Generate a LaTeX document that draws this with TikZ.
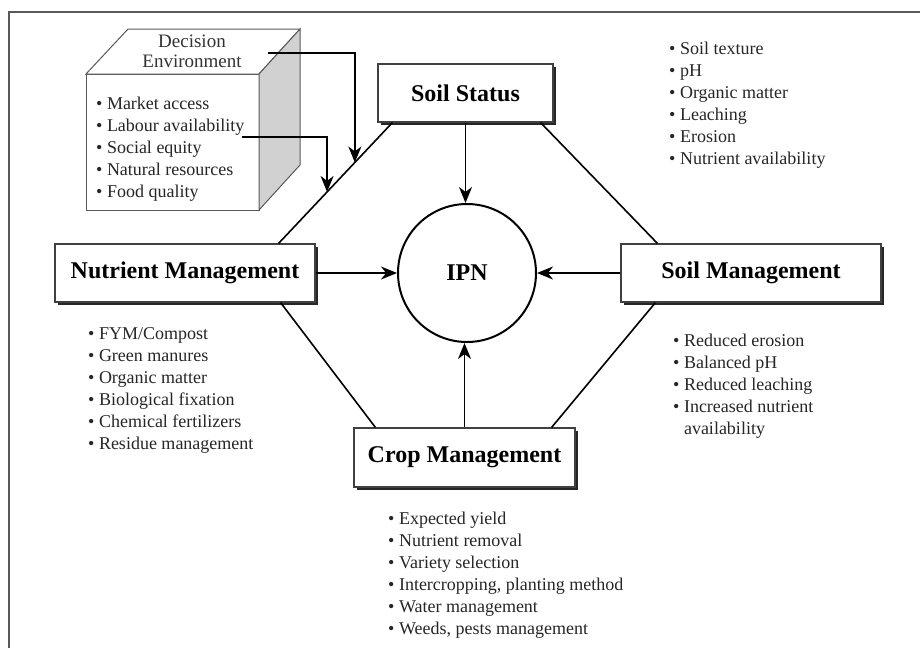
\documentclass[tikz,border=0pt]{standalone}
\usepackage{fontspec}
\setmainfont{Liberation Serif}
\usetikzlibrary{arrows.meta,calc,shadows}

% a column of bullet points: name, x of bullet, baseline of first line, items
\newcommand\bulletitems[4]{%
  \foreach \t [count=\i from 0] in {#4} {%
    \node[item] (#1-\i) at ({#2},{#3+22*\i}) {\textbullet\ \t};
  }%
}

\begin{document}
\begin{tikzpicture}[x=1pt,y=-1pt,
  frame/.style={draw=black!65, line width=1.8pt},
  box/.style={draw=black!75, line width=1.2pt, fill=white, inner sep=0pt,
    font=\fontsize{24}{28}\selectfont\bfseries,
    drop shadow={shadow xshift=3pt, shadow yshift=-3pt, fill=black!85, opacity=1}},
  hub/.style={circle, draw=black, line width=2pt, fill=white, minimum size=138pt,
    inner sep=0pt, font=\fontsize{24}{28}\selectfont\bfseries},
  edge/.style={draw=black, line width=1.6pt},
  arr/.style={draw=black, line width=1.6pt, -{Stealth[length=16pt,width=13pt,inset=5pt]}},
  cube/.style={draw=black!65, line width=1pt},
  item/.style={inner sep=0pt, anchor=base west, text=black!85,
    font=\fontsize{18}{22}\selectfont},
  cubetitle/.style={inner sep=0pt, anchor=base, text=black!80,
    font=\fontsize{19}{22}\selectfont}
]
\useasboundingbox (0,0) rectangle (920,648);

% page frame
\draw[frame] (920,12) -- (9,12) -- (9,648);

% decision environment cube
\coordinate (c1) at (86,74);
\coordinate (c2) at (259,74);
\coordinate (c3) at (259,210);
\coordinate (c4) at (86,210);
\coordinate (c5) at (128,29);
\coordinate (c6) at (300,29);
\coordinate (c7) at (300,165);
\draw[cube, fill=white] (c4) -- (c1) -- (c2) -- (c3) -- cycle;
\draw[cube, fill=white] (c1) -- (c5) -- (c6) -- (c2) -- cycle;
\draw[cube, fill=black!18] (c2) -- (c6) -- (c7) -- (c3) -- cycle;
\node[cubetitle] (de1) at (192,47) {Decision};
\node[cubetitle] (de2) at (192,67) {Environment};
\bulletitems{del}{96}{109}{Market access, Labour availability, Social equity, Natural resources, Food quality}

% boxes and hub
\node[box, minimum width=175pt, minimum height=58pt] (ss) at (465.5,93) {Soil Status};
\node[box, minimum width=260pt, minimum height=58pt] (nm) at (185,273) {Nutrient Management};
\node[box, minimum width=260pt, minimum height=58pt] (sm) at (751,273) {Soil Management};
\node[box, minimum width=221pt, minimum height=59pt] (cm) at (464.5,457.5) {Crop Management};
\node[hub] (ipn) at (467,273) {IPN};

% octagon links between the boxes
\draw[edge] ($(ss.south west)+(15,0)$) -- coordinate[pos=0.33] (hit1) coordinate[pos=0.574] (hit2) ($(nm.north east)+(-37,0)$);
\draw[edge] ($(ss.south east)+(-13,0)$) -- ($(sm.north west)+(37,0)$);
\draw[edge] ($(nm.south east)+(-35,0)$) -- ($(cm.north west)+(22,0)$);
\draw[edge] ($(sm.south west)+(35,0)$) -- ($(cm.north east)+(-24,0)$);

% arrows into the hub
\draw[arr] (ss.south) -- (ss.south |- ipn.north);
\draw[arr] (nm.east) -- (ipn.west);
\draw[arr] (sm.west) -- (ipn.east);
\draw[arr] (cm.north) -- (cm.north |- ipn.south);

% arrows from the decision environment
\coordinate (from1) at (268,53);
\coordinate (from2) at (242,137);
\draw[arr] (from1) -| (hit1);
\draw[arr] (from2) -| (hit2);

% bullet lists
\bulletitems{ssl}{669}{54}{Soil texture, pH, Organic matter, Leaching, Erosion, Nutrient availability}
\bulletitems{nml}{88}{339}{FYM/Compost, Green manures, Organic matter, Biological fixation, Chemical fertilizers, Residue management}
\bulletitems{sml}{673}{346}{Reduced erosion, Balanced pH, Reduced leaching, Increased nutrient}
\node[item] (sml-4) at ($(sml-3.base west)+(0,22)$) {\phantom{\textbullet\ }availability};
\bulletitems{cml}{388}{524}{Expected yield, Nutrient removal, Variety selection, {Intercropping, planting method}, Water management, {Weeds, pests management}}
\end{tikzpicture}
\end{document}
